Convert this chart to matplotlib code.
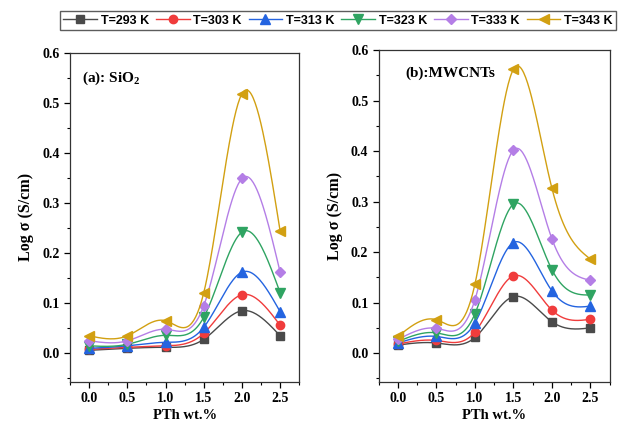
import numpy as np
import matplotlib
matplotlib.use("Agg")
import matplotlib.pyplot as plt
from matplotlib.ticker import MultipleLocator

# ---------------------------------------------------------------
# Data
# ---------------------------------------------------------------
wt = [0.0, 0.5, 1.0, 1.5, 2.0, 2.5]          # PTh wt.%
temps = ["T=293 K", "T=303 K", "T=313 K", "T=323 K", "T=333 K", "T=343 K"]

# (a) SiO2
sio2_293 = [0.006, 0.010, 0.012, 0.028, 0.085, 0.035]
sio2_303 = [0.008, 0.012, 0.015, 0.040, 0.117, 0.056]
sio2_313 = [0.010, 0.015, 0.022, 0.052, 0.162, 0.083]
sio2_323 = [0.015, 0.018, 0.036, 0.072, 0.242, 0.121]
sio2_333 = [0.025, 0.025, 0.048, 0.095, 0.349, 0.162]
sio2_343 = [0.035, 0.035, 0.065, 0.121, 0.518, 0.244]

# (b) MWCNTs
mw_293 = [0.016, 0.020, 0.031, 0.112, 0.062, 0.050]
mw_303 = [0.018, 0.025, 0.042, 0.153, 0.085, 0.067]
mw_313 = [0.020, 0.033, 0.060, 0.219, 0.123, 0.093]
mw_323 = [0.023, 0.040, 0.078, 0.295, 0.165, 0.115]
mw_333 = [0.027, 0.049, 0.106, 0.402, 0.226, 0.144]
mw_343 = [0.033, 0.066, 0.137, 0.562, 0.326, 0.186]

sio2 = [sio2_293, sio2_303, sio2_313, sio2_323, sio2_333, sio2_343]
mwcnt = [mw_293, mw_303, mw_313, mw_323, mw_333, mw_343]

colors = ["#4a4a4a", "#f03c3c", "#2464e0", "#2fa462", "#b47ee6", "#d2a012"]
markers = ["s", "o", "^", "v", "D", "<"]
msizes = [6, 6, 6.5, 6.5, 5.5, 6.5]


def natural_spline(x, y, n=200):
    # plain natural cubic spline, only used to draw the smooth connecting line
    x = np.asarray(x, float)
    y = np.asarray(y, float)
    m = len(x)
    h = np.diff(x)
    A = np.zeros((m, m))
    b = np.zeros(m)
    A[0, 0] = A[-1, -1] = 1.0
    for i in range(1, m - 1):
        A[i, i - 1] = h[i - 1]
        A[i, i] = 2 * (h[i - 1] + h[i])
        A[i, i + 1] = h[i]
        b[i] = 6 * ((y[i + 1] - y[i]) / h[i] - (y[i] - y[i - 1]) / h[i - 1])
    M = np.linalg.solve(A, b)
    xs = np.linspace(x[0], x[-1], n)
    idx = np.clip(np.searchsorted(x, xs) - 1, 0, m - 2)
    x0, x1 = x[idx], x[idx + 1]
    hh = x1 - x0
    t0 = x1 - xs
    t1 = xs - x0
    ys = (M[idx] * t0 ** 3 + M[idx + 1] * t1 ** 3) / (6 * hh) \
        + (y[idx] / hh - M[idx] * hh / 6) * t0 \
        + (y[idx + 1] / hh - M[idx + 1] * hh / 6) * t1
    return xs, ys


plt.rcParams["font.family"] = ["Liberation Serif", "DejaVu Serif"]
plt.rcParams["font.weight"] = "bold"
plt.rcParams["mathtext.fontset"] = "custom"
plt.rcParams["mathtext.rm"] = "Liberation Serif:bold"
plt.rcParams["mathtext.bf"] = "Liberation Serif:bold"
plt.rcParams["mathtext.it"] = "Liberation Serif:bold"

fig = plt.figure(figsize=(6.26, 4.32), dpi=100)
ax_a = fig.add_axes([0.112, 0.116, 0.366, 0.762])
ax_b = fig.add_axes([0.605, 0.116, 0.369, 0.768])

for ax, data, label, tx in [(ax_a, sio2, "(a): SiO$_\\mathbf{2}$", 0.05),
                            (ax_b, mwcnt, "(b):MWCNTs", 0.115)]:
    for vals, c, mk, ms, lab in zip(data, colors, markers, msizes, temps):
        xs, ys = natural_spline(wt, vals)
        ax.plot(xs, ys, color=c, linewidth=1.0)
        ax.plot(wt, vals, linestyle="none", marker=mk, markersize=ms,
                color=c, markeredgecolor=c)
        ax.plot([], [], color=c, marker=mk, markersize=ms, linewidth=1.0, label=lab)
    ax.set_xlim(-0.25, 2.75)
    ax.set_ylim(-0.057, 0.6)
    ax.xaxis.set_major_locator(MultipleLocator(0.5))
    ax.xaxis.set_minor_locator(MultipleLocator(0.25))
    ax.yaxis.set_major_locator(MultipleLocator(0.1))
    ax.yaxis.set_minor_locator(MultipleLocator(0.05))
    ax.tick_params(which="both", direction="out", top=False, right=False,
                   labelsize=10)
    ax.tick_params(which="major", length=4, width=0.9)
    ax.tick_params(which="minor", length=2.5, width=0.8)
    for lab_ in ax.get_xticklabels() + ax.get_yticklabels():
        lab_.set_fontweight("bold")
    for s in ax.spines.values():
        s.set_color("#333333")
        s.set_linewidth(0.9)
    ax.set_xlabel("PTh wt.%", fontsize=10.5, fontweight="bold", labelpad=3)
    ax.set_ylabel("Log σ (S/cm)", fontsize=11.5, fontweight="bold", labelpad=6)
    ax.text(tx, 0.95, label, transform=ax.transAxes, fontsize=11,
            fontweight="bold", va="top", ha="left")

handles, labels = ax_a.get_legend_handles_labels()
leg = fig.legend(handles, labels, loc="center", bbox_to_anchor=(0.540, 0.952),
                 ncol=6, frameon=True, fancybox=False, edgecolor="#333333",
                 prop={"family": "Liberation Sans", "size": 9},
                 handlelength=2.7, handletextpad=0.3, columnspacing=0.55,
                 borderpad=0.3, borderaxespad=0.2)
leg.get_frame().set_linewidth(1.0)

fig.savefig("out.png", dpi=100)
